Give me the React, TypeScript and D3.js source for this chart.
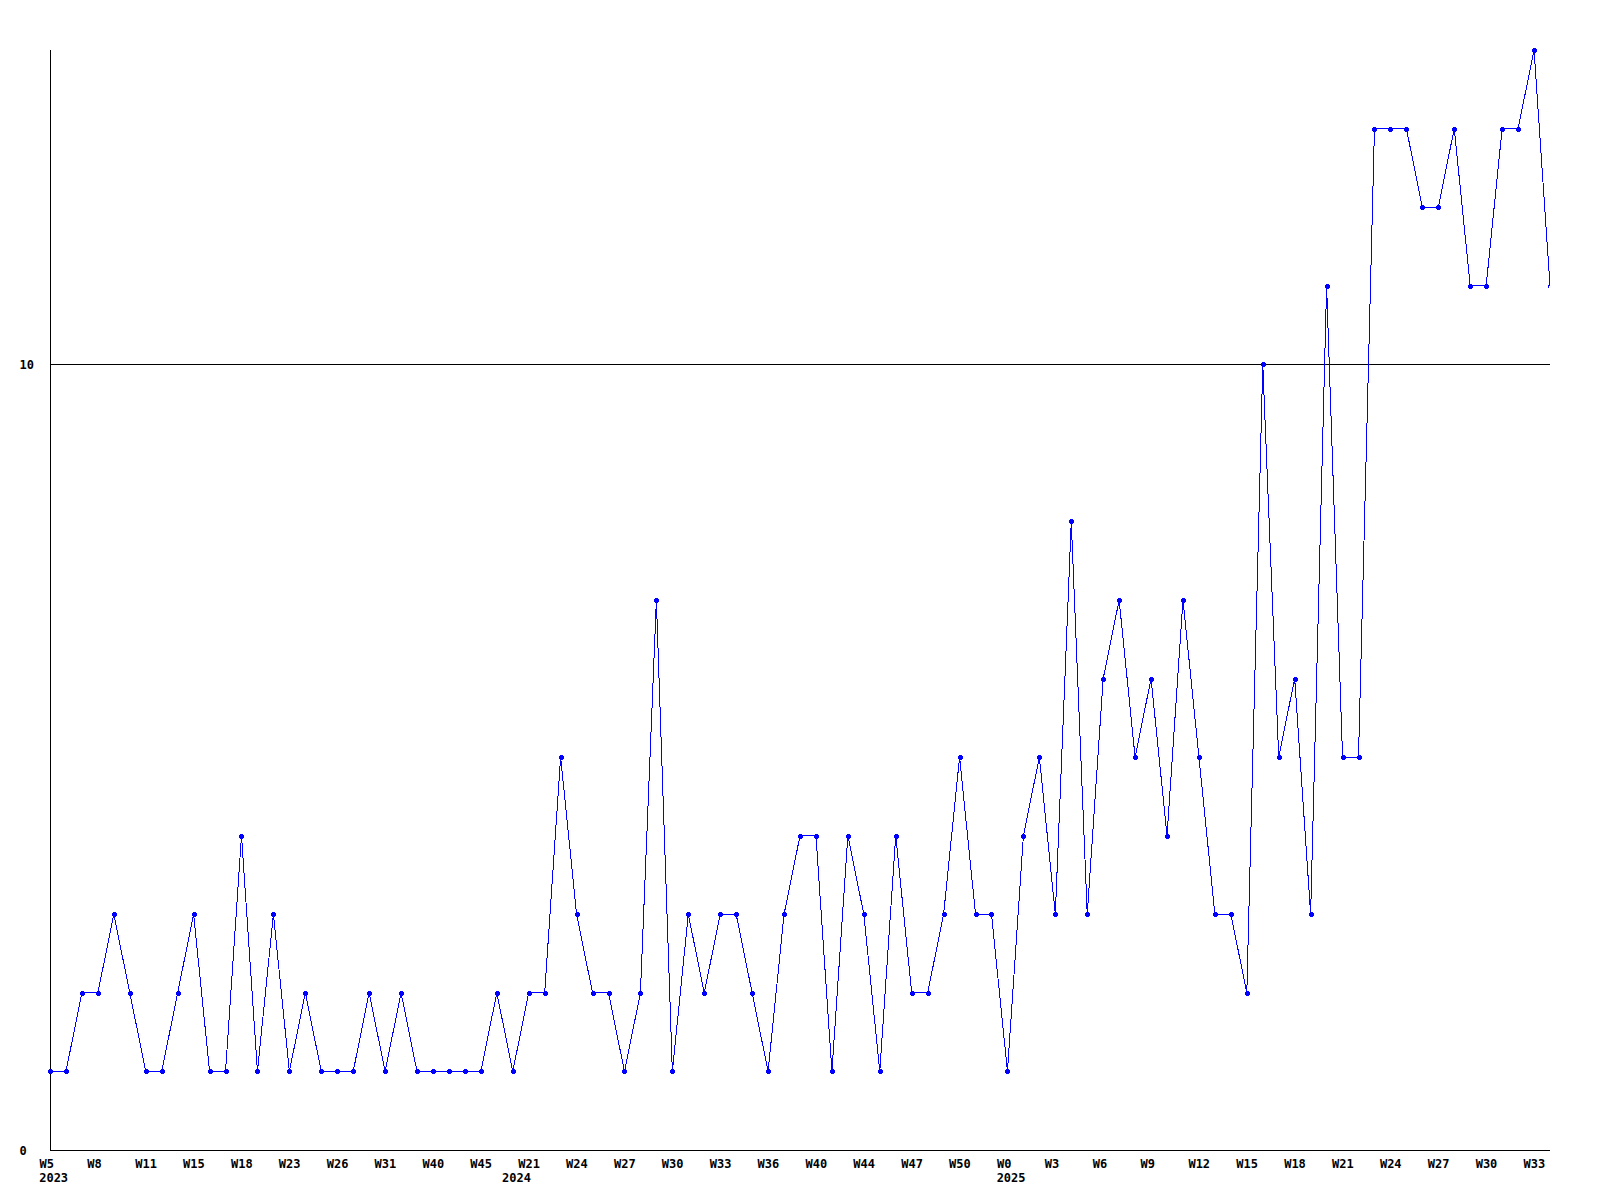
import React from "react";
import * as d3 from "d3";

// Weekly counts, one per plotted week (95 points)
const values: number[] = [
  1, 1, 2, 2, 3, 2, 1, 1, 2, 3,
  1, 1, 4, 1, 3, 1, 2, 1, 1, 1,
  2, 1, 2, 1, 1, 1, 1, 1, 2, 1,
  2, 2, 5, 3, 2, 2, 1, 2, 7, 1,
  3, 2, 3, 3, 2, 1, 3, 4, 4, 1,
  4, 3, 1, 4, 2, 2, 3, 5, 3, 3,
  1, 4, 5, 3, 8, 3, 6, 7, 5, 6,
  4, 7, 5, 3, 3, 2, 10, 5, 6, 3,
  11, 5, 5, 13, 13, 13, 12, 12, 13, 11,
  11, 13, 13, 14, 11,
];

// Week tick labels, shown on every third point
const weekTicks: string[] = [
  "W5", "W8", "W11", "W15", "W18", "W23", "W26", "W31", "W40", "W45",
  "W21", "W24", "W27", "W30", "W33", "W36", "W40", "W44", "W47", "W50",
  "W0", "W3", "W6", "W9", "W12", "W15", "W18", "W21", "W24", "W27",
  "W30", "W33",
];
const weekTickStep = 3;

// Year labels and the index of the first point of each year
const yearLabels: string[] = ["2023", "2024", "2025"];
const yearStartIndex: number[] = [0, 29, 60];

// Y axis
const yMax = 14;
const yTicks: number[] = [0, 10];

const W = 1600;
const H = 1200;
const left = 50;
const right = 1550;
const top = 50;
const bottom = 1150;
const font = "'DejaVu Sans Mono', monospace";

export default function App() {
  const x = d3.scaleLinear().domain([0, values.length - 1]).range([left, right]);
  const y = d3.scaleLinear().domain([0, yMax]).range([bottom, top]);
  const line = d3
    .line<number>()
    .x((_, i) => x(i))
    .y((d) => y(d));

  return (
    <svg
      width={W}
      height={H}
      style={{ position: "absolute", left: 0, top: 0, background: "#fff" }}
    >
      <defs>
        <clipPath id="plot">
          <rect x={left - 4} y={0} width={right - left + 3} height={H} />
        </clipPath>
      </defs>
      <rect x={0} y={0} width={W} height={H} fill="#fff" />
      {/* grid line at 10 */}
      {yTicks
        .filter((t) => t !== 0)
        .map((t) => (
          <line
            key={t}
            x1={left}
            x2={right}
            y1={Math.round(y(t)) + 0.5}
            y2={Math.round(y(t)) + 0.5}
            stroke="#000"
            strokeWidth={1}
            shapeRendering="crispEdges"
          />
        ))}
      {/* axes */}
      <line
        x1={left + 0.5}
        x2={left + 0.5}
        y1={top}
        y2={bottom}
        stroke="#000"
        shapeRendering="crispEdges"
      />
      <line
        x1={left}
        x2={right}
        y1={bottom + 0.5}
        y2={bottom + 0.5}
        stroke="#000"
        shapeRendering="crispEdges"
      />
      {/* y labels */}
      {yTicks.map((t) => (
        <text
          key={t}
          x={19.5}
          y={y(t) + 4.5}
          fontFamily={font}
          fontWeight="bold"
          fontSize={12}
          fill="#000"
        >
          {t}
        </text>
      ))}
      {/* week labels */}
      {weekTicks.map((lab, k) => (
        <text
          key={k}
          x={x(k * weekTickStep) - 10.5}
          y={1167.5}
          fontFamily={font}
          fontWeight="bold"
          fontSize={12}
          fill="#000"
        >
          {lab}
        </text>
      ))}
      {/* year labels */}
      {yearLabels.map((lab, k) => (
        <text
          key={lab}
          x={x(yearStartIndex[k]) - 10.8}
          y={1182}
          fontFamily={font}
          fontWeight="bold"
          fontSize={12}
          fill="#000"
        >
          {lab}
        </text>
      ))}
      {/* series */}
      <path
        d={line(values) || ""}
        fill="none"
        stroke="#0000ff"
        strokeWidth={1}
        shapeRendering="crispEdges"
      />
      <g clipPath="url(#plot)" fill="#0000ff">
        {values.map((v, i) => {
          const cx = Math.round(x(i));
          const cy = Math.round(y(v));
          return (
            <g key={i}>
              <rect x={cx - 2} y={cy - 1} width={5} height={3} />
              <rect x={cx - 1} y={cy - 2} width={3} height={5} />
            </g>
          );
        })}
      </g>
    </svg>
  );
}
